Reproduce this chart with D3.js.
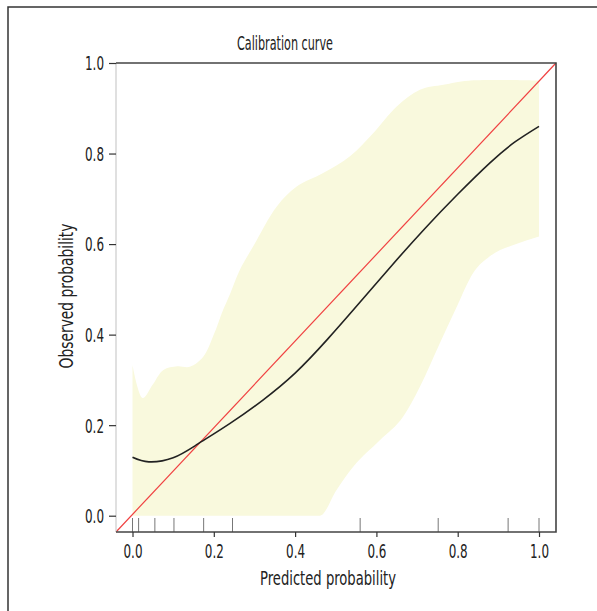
<!DOCTYPE html>
<html>
<head>
<meta charset="utf-8">
<script src="https://cdn.jsdelivr.net/npm/d3@7"></script>
<style>
  body { margin: 0; background: #fff; }
  text { font-family: "DejaVu Sans", sans-serif; fill: #222; }
</style>
</head>
<body>
<svg id="drawing_region"></svg>
<script>
// calibration curve (black)
const curveX = [0, 0.04, 0.1, 0.16, 0.24, 0.32, 0.4, 0.48, 0.56, 0.64, 0.72, 0.8, 0.88, 0.94, 1.0];
const curveY = [0.129, 0.119, 0.128, 0.158, 0.204, 0.255, 0.315, 0.39, 0.472, 0.555, 0.635, 0.71, 0.78, 0.825, 0.86];

// confidence band, upper and lower edges
const upperX = [0, 0.025, 0.05, 0.076, 0.11, 0.141, 0.174, 0.2, 0.223, 0.24, 0.264, 0.297, 0.355, 0.404, 0.469, 0.535, 0.592, 0.65, 0.707, 0.765, 0.826, 1.0];
const upperY = [0.333, 0.26, 0.29, 0.322, 0.33, 0.329, 0.351, 0.40, 0.455, 0.49, 0.543, 0.595, 0.683, 0.727, 0.757, 0.794, 0.845, 0.904, 0.941, 0.952, 0.961, 0.961];
const lowerX = [0, 0.461, 0.502, 0.543, 0.609, 0.666, 0.707, 0.756, 0.798, 0.838, 0.879, 0.937, 1.0];
const lowerY = [0, 0, 0.057, 0.108, 0.167, 0.219, 0.285, 0.381, 0.462, 0.536, 0.573, 0.598, 0.617];

// rug of predicted values
const rugX = [0.0, 0.015, 0.055, 0.102, 0.175, 0.246, 0.56, 0.752, 0.924, 1.0];

const tickVals = [0, 0.2, 0.4, 0.6, 0.8, 1.0];

const config = {
    width: 597,
    height: 611,
    margin: {top: 63, right: 41, bottom: 79, left: 116}
};

const svg = d3.select('#drawing_region')
    .attr('width', config.width)
    .attr('height', config.height);

// outer frame
svg.append('rect')
    .attr('x', 8).attr('y', 7)
    .attr('width', 620).attr('height', 640)
    .attr('fill', 'none')
    .attr('stroke', '#333')
    .attr('stroke-width', 1.5);

const pLeft = config.margin.left;
const pRight = config.width - config.margin.right;
const pTop = config.margin.top;
const pBottom = config.height - config.margin.bottom;

const x = d3.scaleLinear().domain([-0.0406, 1.0418]).range([pLeft, pRight]);
const y = d3.scaleLinear().domain([-0.036, 1.0]).range([pBottom, pTop]);

const lineUp = d3.line().x(d => x(d[0])).y(d => y(d[1])).curve(d3.curveCatmullRom.alpha(0.5));
const lineLo = d3.line().x(d => x(d[0])).y(d => y(d[1])).curve(d3.curveMonotoneX);
const lineFit = d3.line().x(d => x(d[0])).y(d => y(d[1])).curve(d3.curveNatural);

// band
const up = upperX.map((v, i) => [v, upperY[i]]);
const lo = lowerX.map((v, i) => [v, lowerY[i]]).reverse();
svg.append('path')
    .attr('d', lineUp(up) + 'L' + lineLo(lo).slice(1) + 'Z')
    .attr('fill', '#f9f9dd')
    .attr('stroke', 'none');

// rug
svg.selectAll('.rug')
    .data(rugX)
    .enter()
    .append('line')
    .attr('class', 'rug')
    .attr('x1', d => x(d)).attr('x2', d => x(d))
    .attr('y1', pBottom).attr('y2', pBottom - 14)
    .attr('stroke', '#777')
    .attr('stroke-width', 1);

// ideal line, corner to corner
svg.append('line')
    .attr('x1', x(x.domain()[0])).attr('y1', y(y.domain()[0]))
    .attr('x2', x(x.domain()[1])).attr('y2', y(y.domain()[1]))
    .attr('stroke', '#f04040')
    .attr('stroke-width', 1.2);

// calibration curve
svg.append('path')
    .attr('d', lineFit(curveX.map((v, i) => [v, curveY[i]])))
    .attr('fill', 'none')
    .attr('stroke', '#222')
    .attr('stroke-width', 1.6);

// box
svg.append('line').attr('x1', pLeft).attr('x2', pLeft).attr('y1', pTop).attr('y2', pBottom)
    .attr('stroke', '#ccc').attr('stroke-width', 1.2);
svg.append('path')
    .attr('d', `M${pLeft},${pTop}H${pRight}V${pBottom}H${pLeft}`)
    .attr('fill', 'none')
    .attr('stroke', '#444')
    .attr('stroke-width', 1.6);

// axes
const xAxis = svg.append('g')
    .attr('transform', `translate(0,${pBottom})`)
    .call(d3.axisBottom(x).tickValues(tickVals).tickFormat(d3.format('.1f')).tickSize(5).tickSizeOuter(0));
const yAxis = svg.append('g')
    .attr('transform', `translate(${pLeft},0)`)
    .call(d3.axisLeft(y).tickValues(tickVals).tickFormat(d3.format('.1f')).tickSize(7).tickSizeOuter(0));

// narrow lettering, like the original condensed face
[xAxis, yAxis].forEach(g => {
    g.select('.domain').remove();
    g.selectAll('line').attr('stroke', '#333').attr('stroke-width', 1.2);
    g.selectAll('text')
        .attr('font-family', null)
        .attr('font-size', null)
        .style('font-size', '19px')
        .attr('textLength', 19)
        .attr('lengthAdjust', 'spacingAndGlyphs')
        .attr('fill', '#222');
});
xAxis.selectAll('text').attr('dy', '0.95em');
yAxis.selectAll('text').attr('x', -12).attr('dy', '0.36em');

// labels
svg.append('text')
    .attr('x', 285).attr('y', 50)
    .attr('text-anchor', 'middle')
    .style('font-size', '20px')
    .attr('textLength', 96)
    .attr('lengthAdjust', 'spacingAndGlyphs')
    .text('Calibration curve');

svg.append('text')
    .attr('x', 328).attr('y', 585)
    .attr('text-anchor', 'middle')
    .style('font-size', '20px')
    .attr('textLength', 136)
    .attr('lengthAdjust', 'spacingAndGlyphs')
    .text('Predicted probability');

svg.append('text')
    .attr('transform', `translate(73, 296) rotate(-90)`)
    .attr('text-anchor', 'middle')
    .style('font-size', '20px')
    .attr('textLength', 145)
    .attr('lengthAdjust', 'spacingAndGlyphs')
    .text('Observed probability');
</script>
</body>
</html>
